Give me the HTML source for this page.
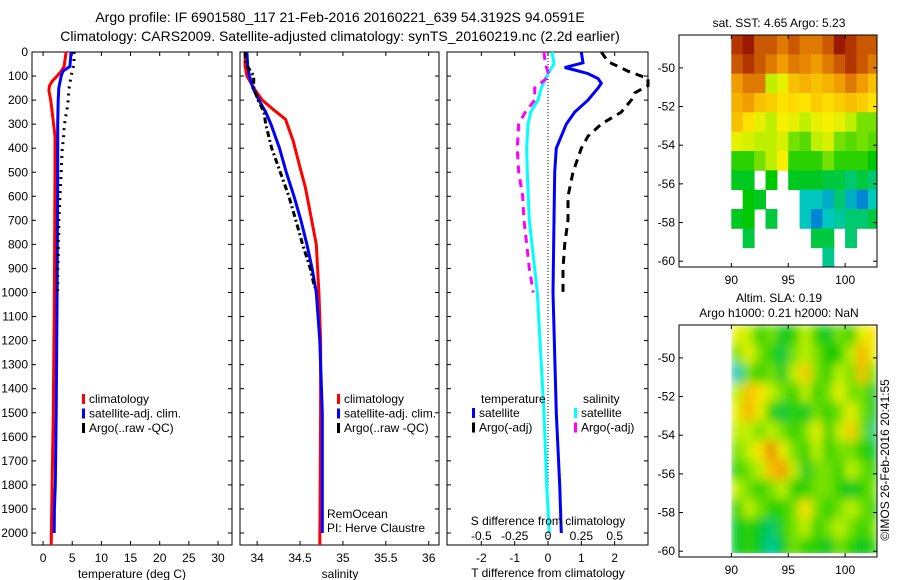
<!DOCTYPE html>
<html><head><meta charset="utf-8">
<style>
html,body{margin:0;padding:0;background:#fff;}
svg{display:block;font-family:"Liberation Sans",sans-serif;}
</style></head>
<body>
<svg id="fig" width="900" height="580" viewBox="0 0 900 580" xmlns="http://www.w3.org/2000/svg">
<text x="340" y="22" font-size="14" text-anchor="middle">Argo profile: IF 6901580_117 21-Feb-2016 20160221_639 54.3192S 94.0591E</text>
<text x="340" y="41" font-size="14" text-anchor="middle">Climatology: CARS2009. Satellite-adjusted climatology: synTS_20160219.nc (2.2d earlier)</text>
<text x="779" y="27" font-size="12" text-anchor="middle">sat. SST: 4.65 Argo: 5.23</text>
<text x="779" y="302" font-size="12" text-anchor="middle">Altim. SLA: 0.19</text>
<text x="779" y="317" font-size="12" text-anchor="middle">Argo h1000: 0.21 h2000: NaN</text>
<text transform="translate(889,460) rotate(-90)" font-size="12" text-anchor="middle">©IMOS 26-Feb-2016 20:41:55</text>
<g id="plots"></g>
</svg>
<script>
// ---- depth axis data ----
const depthTicks = [0,100,200,300,400,500,600,700,800,900,1000,1100,1200,1300,1400,1500,1600,1700,1800,1900,2000];
// ---- temperature panel ----
const tempTicks = [0,5,10,15,20,25,30];
const climTDepth = [0,60,80,100,120,140,160,200,300,350,500,1000,1500,1800,2050];
const climTVals  = [3.95,3.6,3.1,2.4,1.6,1.1,1.0,1.3,1.8,2.05,2.05,1.95,1.75,1.55,1.4];
const satTDepth = [0,60,70,80,100,150,200,300,500,1000,1500,1800,1900,2000];
const satTVals  = [4.8,4.6,4.0,3.4,3.1,2.7,2.6,2.5,2.5,2.4,2.25,2.1,1.95,1.9];
const argoTDepth = [0,20,40,60,80,100,130,160,200,240,280,320,360,400,450,500,550,600,650,700,750,800,850,900,950,1000];
const argoTVals  = [5.3,5.3,5.3,5.2,5.0,4.8,4.6,4.4,4.3,4.1,3.8,3.6,3.5,3.3,3.2,3.1,3.0,2.9,2.8,2.7,2.7,2.6,2.6,2.5,2.5,2.5];
// ---- salinity panel ----
const salTicks = [34,34.5,35,35.5,36];
const climSDepth = [0,60,100,160,200,240,280,370,480,560,615,800,1000,1200,1500,2050];
const climSVals  = [33.86,33.86,33.88,33.98,34.06,34.19,34.33,34.42,34.5,34.56,34.59,34.69,34.72,34.74,34.74,34.73];
const satSDepth = [0,60,100,150,200,250,300,400,500,600,700,800,900,1000,1200,1500,2000];
const satSVals  = [33.88,33.89,33.91,33.95,34.02,34.1,34.16,34.26,34.34,34.43,34.51,34.58,34.64,34.69,34.73,34.76,34.76];
const argoSDepth = [0,50,100,150,200,250,300,400,500,600,700,800,900,980];
const argoSVals  = [33.86,33.87,33.96,33.96,34.01,34.08,34.1,34.17,34.27,34.37,34.45,34.53,34.62,34.67];
// ---- difference panel ----
const tDiffTicks = [-2,-1,0,1,2];
const sDiffTicks = [-0.5,-0.25,0,0.25,0.5];
const sDiffTickLabels = ["-0.5","-0.25","0","0.25","0.5"];
const dSatTDepth = [0,45,65,75,90,110,130,150,200,250,300,400,500,700,1000,1500,1800,2000];
const dSatTVals  = [1.0,1.05,0.5,0.8,1.2,1.5,1.6,1.5,1.2,0.8,0.55,0.25,0.2,0.18,0.15,0.25,0.35,0.4];
const dArgoTDepth = [0,40,80,110,140,170,200,250,300,350,400,500,600,700,800,900,1000];
const dArgoTVals  = [1.6,1.8,2.4,3.0,3.0,2.6,2.5,2.2,1.6,1.2,1.0,0.75,0.6,0.6,0.5,0.45,0.45];
const dSatSDepth = [0,50,100,150,200,250,300,400,500,700,1000,1500,1800,2000];
const dSatSVals  = [0.03,0.045,-0.01,-0.05,-0.075,-0.13,-0.15,-0.16,-0.155,-0.14,-0.08,-0.03,-0.01,0.01];
const dArgoSDepth = [0,50,100,150,200,250,300,400,500,600,700,800,900,1000];
const dArgoSVals  = [-0.03,-0.02,0.01,-0.1,-0.1,-0.17,-0.22,-0.23,-0.22,-0.19,-0.18,-0.16,-0.14,-0.11];
// ---- maps ----
const lonTicks = [90,95,100];
const latTicks = [-50,-52,-54,-56,-58,-60];
const sstGrid = [
[0.9,0.95,0.85,0.85,0.8,0.85,0.8,0.8,0.85,0.95,0.9,0.85,0.85],
[0.85,0.9,0.85,0.8,0.75,0.8,0.78,0.75,0.8,0.85,0.9,0.85,0.8],
[0.75,0.8,0.8,0.55,0.6,0.7,0.72,0.7,0.72,0.75,0.8,0.75,0.7],
[0.72,0.75,0.7,0.68,0.65,0.66,0.65,0.68,0.66,0.68,0.7,0.68,0.65],
[0.7,0.65,0.6,0.55,0.62,0.6,0.55,0.6,0.62,0.6,0.55,0.5,0.5],
[0.6,0.58,0.55,0.55,0.58,0.5,0.48,0.55,0.58,0.5,0.48,0.5,0.48],
[0.45,0.45,0.5,0.55,0.62,0.45,0.45,0.45,0.5,0.45,0.45,0.45,0.42],
[0.4,0.4,null,0.42,null,0.4,0.4,0.4,0.38,0.38,0.35,0.38,0.35],
[null,0.42,0.4,null,null,null,0.3,0.3,0.28,0.35,0.28,0.25,0.3],
[0.4,0.42,null,0.38,null,null,0.3,0.25,0.3,0.32,0.35,0.35,0.38],
[null,0.38,null,null,null,null,null,0.38,0.38,null,0.35,null,null],
[null,null,null,null,null,null,null,null,0.33,null,null,null,null]];
const slaGrid = [
[0.6,0.55,0.45,0.5,0.4,0.45,0.55,0.45,0.4,0.5,0.45,0.6,0.65],
[0.5,0.6,0.5,0.45,0.38,0.5,0.55,0.5,0.42,0.45,0.55,0.72,0.6],
[0.3,0.5,0.45,0.5,0.4,0.55,0.68,0.5,0.45,0.55,0.5,0.7,0.5],
[0.55,0.7,0.65,0.55,0.5,0.45,0.55,0.45,0.5,0.6,0.5,0.5,0.4],
[0.6,0.72,0.6,0.45,0.38,0.45,0.4,0.5,0.45,0.5,0.6,0.5,0.4],
[0.55,0.55,0.5,0.55,0.5,0.45,0.5,0.6,0.45,0.55,0.68,0.5,0.35],
[0.5,0.55,0.65,0.78,0.6,0.5,0.45,0.55,0.45,0.5,0.5,0.45,0.4],
[0.45,0.5,0.55,0.7,0.75,0.55,0.4,0.5,0.5,0.45,0.55,0.5,0.45],
[0.55,0.5,0.45,0.5,0.55,0.45,0.45,0.5,0.5,0.45,0.4,0.45,0.5],
[0.45,0.55,0.5,0.45,0.45,0.5,0.65,0.5,0.45,0.5,0.55,0.5,0.45],
[0.4,0.45,0.4,0.35,0.45,0.5,0.55,0.45,0.5,0.55,0.5,0.45,0.5],
[0.4,0.45,0.4,0.32,0.4,0.5,0.45,0.45,0.4,0.5,0.45,0.4,0.45]];

const NS='http://www.w3.org/2000/svg';
const root=document.getElementById('plots');
function mk(tag,attrs,parent,txt){const e=document.createElementNS(NS,tag);for(const k in attrs)e.setAttribute(k,attrs[k]);if(txt!==undefined)e.textContent=txt;(parent||root).appendChild(e);return e;}
const PT=52,PB=545;
const yD=d=>PT+(d-0)*0.2405;

function panel(name,x0,x1,xmin,xmax){
  const g=mk('g',{});
  
  
  const sx=v=>x0+(v-xmin)/(xmax-xmin)*(x1-x0);
  return {g,sx,x0,x1};
}
function frame(p,showDepthLabels){
  const r=mk('rect',{x:p.x0,y:PT,width:p.x1-p.x0,height:PB-PT,fill:'none',stroke:'#000','stroke-width':1},p.g);
  
  
  depthTicks.forEach(d=>{
    const y=yD(d);
    mk('line',{x1:p.x0,y1:y,x2:p.x0+4,y2:y,stroke:'#000'},p.g);
    mk('line',{x1:p.x1,y1:y,x2:p.x1-4,y2:y,stroke:'#000'},p.g);
    if(showDepthLabels){
      const t=mk('text',{x:p.x0-4,y:y+4,'font-size':12,'text-anchor':'end'},p.g,String(d));
      
      
    }
  });
}
function xticks(p,ticks,labels,yLab){
  ticks.forEach((v,i)=>{
    const x=p.sx(v);
    mk('line',{x1:x,y1:PB,x2:x,y2:PB-4,stroke:'#000'},p.g);
    mk('line',{x1:x,y1:PT,x2:x,y2:PT+4,stroke:'#000'},p.g);
    const t=mk('text',{x:x,y:yLab,'font-size':12,'text-anchor':'middle'},p.g,labels?labels[i]:String(v));
    
    
  });
}
function line(p,sx,depths,vals,color,dash,name,w){
  const pts=depths.map((d,i)=>sx(vals[i]).toFixed(1)+','+yD(d).toFixed(1)).join(' ');
  const a={points:pts,fill:'none',stroke:color,'stroke-width':w||3};
  if(dash)a['stroke-dasharray']=dash;
  const l=mk('polyline',a,p.g);
  
  
}
function legend(p,x,y,items){
  items.forEach((it,i)=>{
    const yy=y+i*14.5;
    const m=mk('rect',{x:x,y:yy-9,width:3,height:10,fill:it[1]},p.g);
    
    
    const t=mk('text',{x:x+7,y:yy,'font-size':12},p.g,it[0]);
    
    
  });
}

// Panel 1 temperature
const p1=panel('temperature-panel',32,232,-1.9,32.4);
frame(p1,true);
xticks(p1,tempTicks,null,562);
line(p1,p1.sx,climTDepth,climTVals,'#f00',null,'climatology-temp-line');
line(p1,p1.sx,satTDepth,satTVals,'#00f',null,'satellite-temp-line');
line(p1,p1.sx,argoTDepth,argoTVals,'#000','2,5','argo-temp-line');
{const t=mk('text',{x:132,y:578,'font-size':12,'text-anchor':'middle'},p1.g,'temperature (deg C)');}
legend(p1,82,403,[['climatology','#f00'],['satellite-adj. clim.','#00f'],['Argo(..raw -QC)','#000']]);

// Panel 2 salinity
const p2=panel('salinity-panel',240,439,33.8,36.12);
frame(p2,false);
xticks(p2,salTicks,null,562);
line(p2,p2.sx,climSDepth,climSVals,'#f00',null,'climatology-sal-line');
line(p2,p2.sx,satSDepth,satSVals,'#00f',null,'satellite-sal-line');
line(p2,p2.sx,argoSDepth,argoSVals,'#000','6,3,2,3','argo-sal-line');
{const t=mk('text',{x:340,y:578,'font-size':12,'text-anchor':'middle'},p2.g,'salinity');}
legend(p2,337,403,[['climatology','#f00'],['satellite-adj. clim.','#00f'],['Argo(..raw -QC)','#000']]);
{const t=mk('text',{x:327,y:518,'font-size':12},p2.g,'RemOcean');
 const u=mk('text',{x:327,y:532,'font-size':12},p2.g,'PI: Herve Claustre');}

// Panel 3 differences
const p3=panel('difference-panel',447,648,-3.03,3.0);
const sxS=v=>p3.sx(v*4);
frame(p3,false);
xticks(p3,tDiffTicks,null,562);
mk('line',{x1:p3.sx(0),y1:PT,x2:p3.sx(0),y2:PB,stroke:'#000','stroke-dasharray':'1,2'},p3.g);
line(p3,p3.sx,dSatTDepth,dSatTVals,'#00f',null,'satellite-tdiff-line');
line(p3,p3.sx,dArgoTDepth,dArgoTVals,'#000','8,6','argo-tdiff-line');
line(p3,sxS,dSatSDepth,dSatSVals,'#0ff',null,'satellite-sdiff-line');
line(p3,sxS,dArgoSDepth,dArgoSVals,'#f0f','8,6','argo-sdiff-line');
sDiffTicks.forEach((v,i)=>{const t=mk('text',{x:sxS(v),y:540,'font-size':12,'text-anchor':'middle'},p3.g,sDiffTickLabels[i]);});
{const t=mk('text',{x:548,y:525,'font-size':12,'text-anchor':'middle'},p3.g,'S difference from climatology');}
{const t=mk('text',{x:548,y:577,'font-size':12,'text-anchor':'middle'},p3.g,'T difference from climatology');}
{const t=mk('text',{x:481,y:403,'font-size':12},p3.g,'temperature');
 const u=mk('text',{x:583,y:403,'font-size':12},p3.g,'salinity');}
legend(p3,472,417,[['satellite','#00f'],['Argo(-adj)','#000']]);
legend(p3,574,417,[['satellite','#0ff'],['Argo(-adj)','#f0f']]);

// ---- maps ----
const stops=[[0,[0,0,120]],[0.15,[0,0,255]],[0.3,[0,200,190]],[0.42,[0,200,0]],[0.55,[190,240,0]],[0.63,[255,240,0]],[0.76,[240,150,0]],[0.92,[170,40,0]],[1,[130,0,0]]];
function cmap(v){for(let i=1;i<stops.length;i++){if(v<=stops[i][0]){const a=stops[i-1],b=stops[i],t=(v-a[0])/(b[0]-a[0]);return 'rgb('+a[1].map((c,k)=>Math.round(c+(b[1][k]-c)*t)).join(',')+')';}}return 'rgb(130,0,0)';}
function mapPanel(name,x0,x1,y0,y1,latTop,latBot,grid,blur){
  const g=mk('g',{});
  
  
  const lonMin=85.4,lonMax=102.8;
  const sx=l=>x0+(l-lonMin)/(lonMax-lonMin)*(x1-x0);
  const sy=la=>y0+(latTop-la)/(latTop-latBot)*(y1-y0);
  const cg=mk('g',blur?{filter:'url(#'+name+'-blur)','clip-path':'url(#'+name+'-clip)'}:{},g);
  if(blur){
    const defs=mk('defs',{},g);
    const f=mk('filter',{id:name+'-blur',x:'-5%',y:'-5%',width:'110%',height:'110%'},defs);
    mk('feGaussianBlur',{stdDeviation:5},f);
    const c=mk('clipPath',{id:name+'-clip'},defs);
    mk('rect',{x:sx(90),y:y0,width:x1-sx(90),height:sy(-60.1)-y0},c);
    g.insertBefore(defs,cg);
  }
  const nr=grid.length,nc=grid[0].length;
  const dLat=(latTop-(latTop-nr))/nr;
  grid.forEach((row,r)=>row.forEach((v,c)=>{
    if(v===null)return;
    const xa=sx(90+c),xb=Math.min(sx(91+c),x1);
    const ya=sy(latTop-r),yb=sy(latTop-r-1);
    const cell=mk('rect',{x:xa.toFixed(1),y:ya.toFixed(1),width:(xb-xa+0.5).toFixed(1),height:(yb-ya+0.5).toFixed(1),fill:cmap(v)},cg);
    
    
  }));
  const fr=mk('rect',{x:x0,y:y0,width:x1-x0,height:y1-y0,fill:'none',stroke:'#000'},g);
  
  
  lonTicks.forEach(l=>{const x=sx(l);mk('line',{x1:x,y1:y1,x2:x,y2:y1-4,stroke:'#000'},g);mk('line',{x1:x,y1:y0,x2:x,y2:y0+4,stroke:'#000'},g);
    const t=mk('text',{x:x,y:y1+17,'font-size':12,'text-anchor':'middle'},g,String(l));});
  latTicks.forEach(la=>{const y=sy(la);mk('line',{x1:x0,y1:y,x2:x0+4,y2:y,stroke:'#000'},g);mk('line',{x1:x1,y1:y,x2:x1-4,y2:y,stroke:'#000'},g);
    const t=mk('text',{x:x0-4,y:y+4,'font-size':12,'text-anchor':'end'},g,String(la));});
}
mapPanel('sst-map',679,877,35,267,-48.3,-60.3,sstGrid,false);
mapPanel('sla-map',679,877,325,557,-48.3,-60.3,slaGrid,true);
</script>
</body></html>
